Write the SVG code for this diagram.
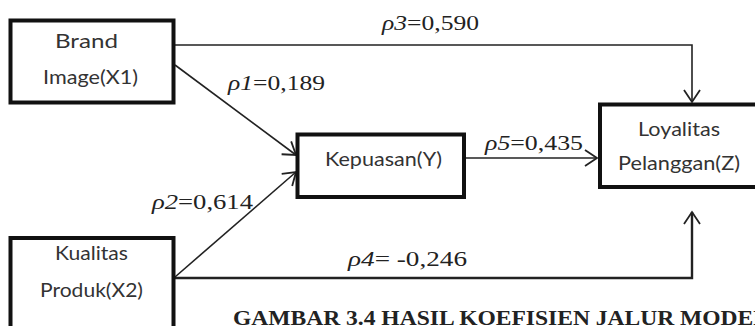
<svg xmlns="http://www.w3.org/2000/svg" width="755" height="326" viewBox="0 0 755 326">
<defs>
<style>
.box{fill:#fff;stroke:#111;stroke-width:4}
.nt{font-family:"Lato","Open Sans","Liberation Sans",sans-serif;font-size:19px;fill:#333}
.lb{font-family:"Liberation Serif","Times New Roman",serif;font-size:21px;fill:#222}
.it{font-style:italic}
.cap{font-family:"Liberation Serif","Times New Roman",serif;font-size:20px;font-weight:bold;fill:#222}
.ln{fill:none;stroke:#222;stroke-width:1.6}
</style>
<marker id="arr" markerUnits="userSpaceOnUse" viewBox="-14 -10 16 20" refX="0" refY="0" markerWidth="16" markerHeight="20" orient="auto" overflow="visible">
<path d="M-12,-8 L0,0 L-12,8" fill="none" stroke="#222" stroke-width="1.8"/>
</marker>
</defs>
<rect width="755" height="326" fill="#fff"/>
<g id="connectors">
<path class="ln" d="M175,45 H692 V102" marker-end="url(#arr)"/>
<path class="ln" d="M175,65 L296,155" marker-end="url(#arr)"/>
<path class="ln" d="M175,277 L296,172" marker-end="url(#arr)"/>
<path class="ln" d="M466,158 H597" marker-end="url(#arr)"/>
<path class="ln" style="stroke-width:2.4" d="M175,278 H692 V212" marker-end="url(#arr)"/>
</g>
<g id="brand-image">
<rect class="box" x="10.5" y="20.5" width="163" height="82"/>
<text class="nt" x="55" y="48" textLength="63" lengthAdjust="spacingAndGlyphs">Brand</text>
<text class="nt" x="43" y="84" textLength="95" lengthAdjust="spacingAndGlyphs">Image(X1)</text>
</g>
<g id="kualitas-produk">
<rect class="box" x="10.5" y="238" width="163" height="100"/>
<text class="nt" x="55" y="260" textLength="73" lengthAdjust="spacingAndGlyphs">Kualitas</text>
<text class="nt" x="40" y="297" textLength="103" lengthAdjust="spacingAndGlyphs">Produk(X2)</text>
</g>
<g id="kepuasan">
<rect class="box" x="297.5" y="134.5" width="166.5" height="62.5"/>
<text class="nt" x="325" y="166" textLength="117" lengthAdjust="spacingAndGlyphs">Kepuasan(Y)</text>
</g>
<g id="loyalitas">
<rect class="box" x="600" y="104.5" width="170" height="82.5"/>
<text class="nt" x="638" y="136" textLength="82" lengthAdjust="spacingAndGlyphs">Loyalitas</text>
<text class="nt" x="618" y="170" textLength="122" lengthAdjust="spacingAndGlyphs">Pelanggan(Z)</text>
</g>
<g id="labels">
<text class="lb" x="228" y="90" textLength="97" lengthAdjust="spacingAndGlyphs"><tspan class="it">ρ1</tspan>=0,189</text>
<text class="lb" x="382" y="30" textLength="97" lengthAdjust="spacingAndGlyphs"><tspan class="it">ρ3</tspan>=0,590</text>
<text class="lb" x="485" y="150" textLength="98" lengthAdjust="spacingAndGlyphs"><tspan class="it">ρ5</tspan>=0,435</text>
<text class="lb" x="152" y="209" textLength="101" lengthAdjust="spacingAndGlyphs"><tspan class="it">ρ2</tspan>=0,614</text>
<text class="lb" x="348" y="266" textLength="119" lengthAdjust="spacingAndGlyphs"><tspan class="it">ρ4</tspan>= -0,246</text>
</g>
<text class="cap" x="233" y="325" textLength="536" lengthAdjust="spacingAndGlyphs">GAMBAR 3.4 HASIL KOEFISIEN JALUR MODEL</text>
</svg>
